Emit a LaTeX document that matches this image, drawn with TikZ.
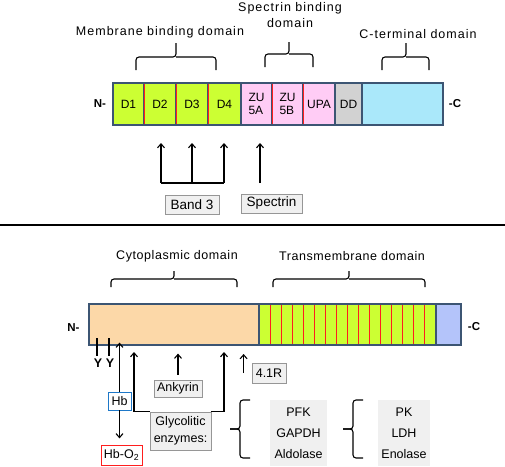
\documentclass[tikz,border=0pt]{standalone}
\usepackage{fontspec}
\setmainfont{Liberation Sans}
\newfontfamily\widefont[LetterSpace=8]{Liberation Sans}
\newfontfamily\midfont[LetterSpace=4.5]{Liberation Sans}
\usetikzlibrary{positioning,arrows.meta}
\definecolor{barline}{RGB}{60,85,115}
\definecolor{lime}{RGB}{204,255,51}
\definecolor{pinkseg}{RGB}{255,204,245}
\definecolor{ddgrey}{RGB}{210,210,210}
\definecolor{cblue}{RGB}{170,232,250}
\definecolor{peach}{RGB}{252,216,168}
\definecolor{lavender}{RGB}{180,196,250}
\definecolor{divred}{RGB}{255,30,30}
\definecolor{tagline}{RGB}{150,150,150}
\definecolor{tagfill}{RGB}{240,240,240}
\definecolor{hbblue}{RGB}{30,120,200}
\tikzset{seg/.style={draw=barline,line width=1.2pt,minimum height=42pt,inner sep=0pt,outer sep=0pt,font=\fontsize{12}{13}\selectfont},
  divline/.style={divred,line width=0.9pt,shorten <=0.6pt,shorten >=0.6pt},
  tag/.style={draw=tagline,fill=tagfill,line width=0.8pt,inner sep=0pt,font=\fontsize{12.5}{17}\selectfont},
  enz/.style={fill=tagfill,inner sep=0pt,align=center,font=\fontsize{12.5}{21}\selectfont},
  brk/.style={line width=1.1pt,rounded corners=3pt},
  arr/.style={line width=1.1pt,-{Straight Barb[length=4pt,width=7pt]}},
  dlabel/.style={inner sep=0pt,align=center,font=\fontsize{12.5}{16}\widefont},
  clabel/.style={inner sep=0pt,font=\fontsize{12.5}{16}\midfont},
  endlab/.style={inner sep=0pt,font=\fontsize{11.5}{13}\selectfont\bfseries}}

\begin{document}
\begin{tikzpicture}[x=1pt,y=-1pt]
  \useasboundingbox (0,0) rectangle (505,466);
  % upper protein
  \node[seg,fill=lime,minimum width=31pt,anchor=west] (d1) at (113,104) {D1};
  \node[seg,fill=lime,minimum width=32pt,right=0pt of d1] (d2) {D2};
  \node[seg,fill=lime,minimum width=32pt,right=0pt of d2] (d3) {D3};
  \node[seg,fill=lime,minimum width=33pt,right=0pt of d3] (d4) {D4};
  \node[seg,fill=pinkseg,minimum width=31pt,align=left,right=0pt of d4] (zua) {ZU\\5A};
  \node[seg,fill=pinkseg,minimum width=31pt,align=left,right=0pt of zua] (zub) {ZU\\5B};
  \node[seg,fill=pinkseg,minimum width=32pt,right=0pt of zub] (upa) {UPA};
  \node[seg,fill=ddgrey,minimum width=27pt,right=0pt of upa] (dd) {DD};
  \node[seg,fill=cblue,minimum width=81pt,right=0pt of dd] (cterm) {};
  \foreach \s in {d1,d2,d3,zua,zub}
    \draw[divline] (\s.north east) -- (\s.south east);
  \node[endlab] (n1) at (100,104) {N-};
  \node[endlab] (c1) at (455,104) {-C};
  % braces and domain names
  \draw[brk] (136,70) -- (136,57) -- (176,57) -- (176,43);
  \draw[brk] (176,57) -- (216,57) -- (216,70);
  \draw[brk] (265,67) -- (265,54) -- (289,54) -- (289,42);
  \draw[brk] (289,54) -- (313,54) -- (313,67);
  \draw[brk] (382,70) -- (382,57) -- (406,57) -- (406,43);
  \draw[brk] (406,57) -- (429,57) -- (429,70);
  \node[dlabel] (mbd) at (160,32) {Membrane binding domain};
  \node[dlabel] (sbd) at (290,15) {Spectrin binding\\domain};
  \node[dlabel] (ctd) at (418,34) {C-terminal domain};
  % partners
  \node[tag,minimum width=54pt,minimum height=19pt,font=\fontsize{13.5}{16}\selectfont] (band3) at (192,204.5) {Band 3};
  \node[tag,minimum width=61pt,minimum height=19pt,font=\fontsize{13.5}{16}\selectfont] (spec) at (271.5,203.5) {Spectrin};
  \coordinate (b3l) at (161,183);
  \coordinate (b3m) at (192,183);
  \coordinate (b3r) at (224,183);
  \coordinate (spf) at (260,183);
  \draw[line width=1.1pt] (b3l) -- (b3r);
  \foreach \c in {b3l,b3m,b3r,spf}
    \draw[arr] (\c) -- ++(0,-40);

  \draw[line width=2pt] (0,225) -- (505,225);

  % lower protein
  \node[seg,fill=peach,minimum width=170pt,minimum height=41pt,anchor=west] (cyto) at (89,324.5) {};
  \node[seg,fill=lime,minimum width=177pt,minimum height=41pt,right=0pt of cyto] (tm) {};
  \node[seg,fill=lavender,minimum width=25pt,minimum height=41pt,right=0pt of tm] (tail) {};
  \foreach \k in {1,...,15}
    \draw[divline] ({259+\k*177/16},304.5) -- ({259+\k*177/16},344.5);
  \node[endlab] (n2) at (73.5,328) {N-};
  \node[endlab] (c2) at (474,327) {-C};
  \draw[brk] (111,287) -- (111,279) -- (174,279) -- (174,271);
  \draw[brk] (174,279) -- (237,279) -- (237,287);
  \draw[brk] (273,287) -- (273,279) -- (349,279) -- (349,271);
  \draw[brk] (349,279) -- (425,279) -- (425,287);
  \node[clabel] (cyd) at (177,256) {Cytoplasmic domain};
  \node[clabel] (tmd) at (352,256) {Transmembrane domain};
  % tyrosines
  \foreach \x in {97,109} {
    \draw[line width=1.1pt] (\x,338) -- (\x,356);
    \node[endlab,font=\fontsize{12.5}{14}\selectfont\bfseries] at (\x+1,363) {Y};
  }
  % hemoglobin
  \node[tag,draw=hbblue,fill=white,minimum width=23pt,minimum height=18pt] (hb) at (119.5,401) {Hb};
  \node[tag,draw=divred,fill=white,minimum width=41pt,minimum height=20pt] (hbo) at (121.5,455) {Hb-O\textsubscript{2}};
  \draw[arr] (hb.north) -- ++(0,-49);
  \draw[arr] (hb.south) -- ++(0,28);
  % ankyrin, 4.1R, glycolytic enzymes
  \node[tag,minimum width=48pt,minimum height=17pt] (ank) at (178,388.5) {Ankyrin};
  \draw[arr] ([yshift=5pt]ank.north) -- ++(0,-21);
  \node[tag,minimum width=34pt,minimum height=20pt] (r41) at (269,373) {4.1R};
  \draw[arr] ([xshift=-8pt]r41.west) -- ++(0,-19);
  \node[tag,align=center,minimum width=61pt,minimum height=38pt] (gly) at (180.5,431) {Glycolitic\\enzymes:};
  \draw[arr] (gly.north west) -| (134,352);
  \draw[arr] (gly.north east) -| (224,352);
  \draw[brk] (250,400) -- (240,400) -- (240,429) -- (230,429);
  \draw[brk] (230,429) -- (240,429) -- (240,458) -- (250,458);
  \node[enz,minimum width=57pt,minimum height=66pt] (enz1) at (298.5,433) {PFK\\GAPDH\\Aldolase};
  \draw[brk] (363,400) -- (353,400) -- (353,429) -- (343,429);
  \draw[brk] (343,429) -- (353,429) -- (353,458) -- (363,458);
  \node[enz,minimum width=52pt,minimum height=66pt] (enz2) at (404,433) {PK\\LDH\\Enolase};
\end{tikzpicture}
\end{document}
